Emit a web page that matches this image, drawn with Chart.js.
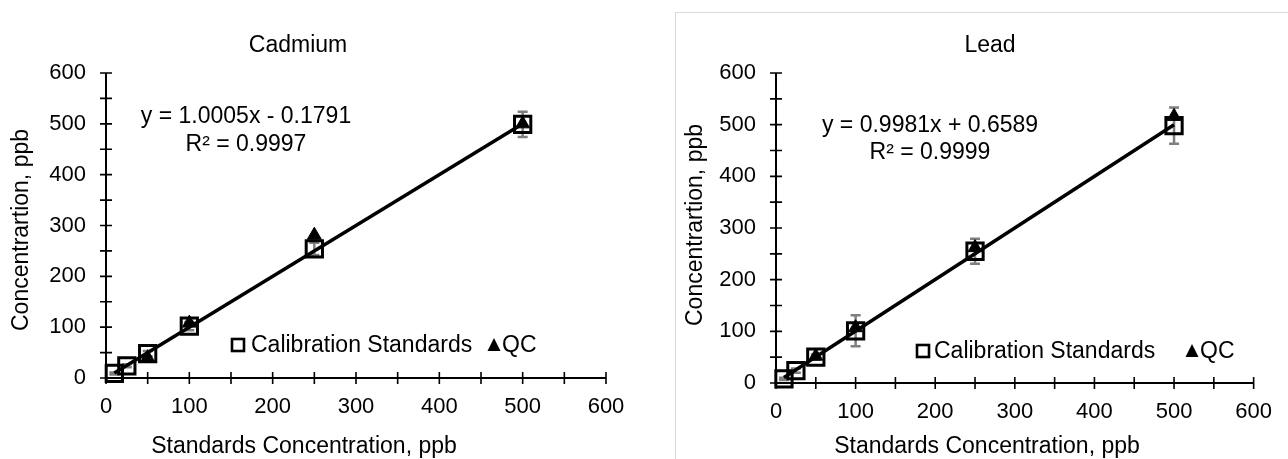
<!DOCTYPE html>
<html><head><meta charset="utf-8">
<script src="https://cdn.jsdelivr.net/npm/chart.js@4/dist/chart.umd.min.js"></script>
<style>
html,body{margin:0;padding:0;background:#fff;width:1288px;height:459px;overflow:hidden;}
#w1{position:absolute;left:0;top:0;width:660px;height:459px;}
#w2{position:absolute;left:675px;top:12px;width:640px;height:470px;border:1px solid #d9d9d9;}
canvas{display:block;}
</style></head><body>
<div id="w1"><canvas id="c1" width="660" height="459"></canvas></div>
<div id="w2"><canvas id="c2" width="612" height="446"></canvas></div>
<script>
// ---- data ----
const xStandards = [10, 25, 50, 100, 250, 500];
const xQC = [50, 100, 250, 500];
const xTrend = [10, 500];

const cdStandards = [9, 24, 48, 102, 254, 499];
const cdStdError = [2, 3, 5, 8, 12, 25];
const cdQC = [40, 108, 281, 500];
const cdTrend = [9.8, 500.1];

const pbStandards = [8, 24, 50, 101, 255, 498];
const pbStdError = [2, 4, 5, 30, 24, 35];
const pbQC = [52, 107, 262, 516];
const pbTrend = [10.6, 499.7];

const axisMin = 0, axisMax = 600, majorStep = 100, minorStep = 50;
const seriesNames = ['Calibration Standards', 'QC'];
const xTitle = 'Standards Concentration, ppb';
const yTitle = 'Concentrartion, ppb';

const FONT = '"Liberation Sans", Arial, sans-serif';

function pts(xs, ys){ return xs.map((x,i)=>({x:x, y:ys[i]})); }

const decor = {
  id: 'decor',
  beforeDatasetsDraw(chart, args, o) {
    const ctx = chart.ctx, xs = chart.scales.x, ys = chart.scales.y;
    const x0 = xs.getPixelForValue(axisMin), y0 = ys.getPixelForValue(axisMin);
    ctx.save();
    ctx.strokeStyle = '#000'; ctx.lineWidth = 2; ctx.lineCap = 'butt';
    ctx.beginPath();
    ctx.moveTo(x0, ys.getPixelForValue(axisMax)); ctx.lineTo(x0, y0);
    ctx.lineTo(xs.getPixelForValue(axisMax), y0);
    ctx.stroke();
    ctx.lineWidth = 1.6;
    for (let v = axisMin; v <= axisMax; v += minorStep) {
      const px = xs.getPixelForValue(v), py = ys.getPixelForValue(v);
      ctx.beginPath();
      ctx.moveTo(px, y0 - 6); ctx.lineTo(px, y0 + 6);
      ctx.moveTo(x0 - 6, py); ctx.lineTo(x0 + 6, py);
      ctx.stroke();
    }
    // error bars
    ctx.strokeStyle = '#7f7f7f'; ctx.lineWidth = 2.5;
    o.errX.forEach((x, i) => {
      const px = xs.getPixelForValue(x);
      const top = ys.getPixelForValue(o.errY[i] + o.err[i]);
      const bot = ys.getPixelForValue(o.errY[i] - o.err[i]);
      ctx.beginPath();
      ctx.moveTo(px, top); ctx.lineTo(px, bot);
      ctx.moveTo(px - 5, top); ctx.lineTo(px + 5, top);
      ctx.moveTo(px - 5, bot); ctx.lineTo(px + 5, bot);
      ctx.stroke();
    });
    ctx.restore();
  },
  afterDraw(chart, args, o) {
    const ctx = chart.ctx;
    ctx.save();
    ctx.fillStyle = '#000';
    ctx.font = '23px ' + FONT;
    ctx.textAlign = 'center'; ctx.textBaseline = 'alphabetic';
    ctx.fillText(o.title, o.titleX, o.titleY);
    ctx.fillText(xTitle, o.xtX, o.xtY);
    ctx.fillText(o.eq1, o.eqX, o.eqY1);
    ctx.fillText(o.eq2, o.eqX, o.eqY2);
    // y title
    ctx.save();
    ctx.translate(o.ytX, o.ytY); ctx.rotate(-Math.PI/2);
    ctx.fillText(yTitle, 0, 0);
    ctx.restore();
    // legend
    const L = o.legend;
    ctx.strokeStyle = '#000'; ctx.lineWidth = 2.6;
    ctx.strokeRect(L.sqX - 6, L.y - 6, 12, 12);
    ctx.textAlign = 'left'; ctx.textBaseline = 'middle';
    ctx.fillText(seriesNames[0], L.t1X, L.y + 1);
    ctx.beginPath();
    ctx.moveTo(L.triX, L.y - 7); ctx.lineTo(L.triX + 6.5, L.y + 6); ctx.lineTo(L.triX - 6.5, L.y + 6);
    ctx.closePath(); ctx.fill();
    ctx.fillText(seriesNames[1], L.t2X, L.y + 1);
    ctx.restore();
  }
};

function makeChart(id, std, err, qc, trend, lay, deco) {
  new Chart(document.getElementById(id), {
    type: 'scatter',
    data: {
      datasets: [
        { label: seriesNames[1], data: pts(xQC, qc), order: 1, clip: false,
          pointStyle: 'triangle', pointRadius: 8, pointHoverRadius: 8,
          backgroundColor: '#000', borderColor: '#000', borderWidth: 1 },
        { label: seriesNames[0], data: pts(xStandards, std), order: 2, clip: false,
          pointStyle: 'rect', pointRadius: 11.5, pointHoverRadius: 11.5,
          backgroundColor: 'rgba(0,0,0,0)', borderColor: '#000', borderWidth: 3 },
        { label: 'Linear', data: pts(xTrend, trend), order: 3, clip: false,
          showLine: true, borderColor: '#000', borderWidth: 3.5, pointRadius: 0, pointHoverRadius: 0 }
      ]
    },
    options: {
      responsive: false, animation: false, devicePixelRatio: 1,
      layout: { padding: { top: lay.top, right: lay.right, left: 0, bottom: 0 } },
      plugins: { legend: { display: false }, tooltip: { enabled: false }, title: { display: false }, decor: deco },
      scales: {
        x: { type: 'linear', min: axisMin, max: axisMax,
          ticks: { stepSize: majorStep, color: '#000', font: { family: FONT, size: 22 }, padding: 16, maxRotation: 0 },
          grid: { display: false, drawTicks: false }, border: { display: false },
          afterFit: s => { s.height = lay.xh; } },
        y: { type: 'linear', min: axisMin, max: axisMax,
          ticks: { stepSize: majorStep, color: '#000', font: { family: FONT, size: 22 }, padding: 20 },
          grid: { display: false, drawTicks: false }, border: { display: false },
          afterFit: s => { s.width = lay.yw; } }
      }
    },
    plugins: [decor]
  });
}

makeChart('c1', cdStandards, cdStdError, cdQC, cdTrend,
  { top: 73, right: 54, xh: 81, yw: 106 },
  { errX: xStandards, errY: cdStandards, err: cdStdError,
    title: 'Cadmium', titleX: 298, titleY: 52, xtX: 304, xtY: 453,
    eq1: 'y = 1.0005x - 0.1791', eq2: 'R² = 0.9997', eqX: 246, eqY1: 123, eqY2: 151,
    ytX: 28, ytY: 230,
    legend: { sqX: 238, y: 345, t1X: 251, triX: 494, t2X: 502 } });

makeChart('c2', pbStandards, pbStdError, pbQC, pbTrend,
  { top: 60, right: 28, xh: 76, yw: 100 },
  { errX: xStandards, errY: pbStandards, err: pbStdError,
    title: 'Lead', titleX: 314, titleY: 39, xtX: 311, xtY: 440,
    eq1: 'y = 0.9981x + 0.6589', eq2: 'R² = 0.9999', eqX: 254, eqY1: 119, eqY2: 146,
    ytX: 26, ytY: 212,
    legend: { sqX: 247, y: 338, t1X: 258, triX: 516, t2X: 524 } });
</script>
</body></html>
